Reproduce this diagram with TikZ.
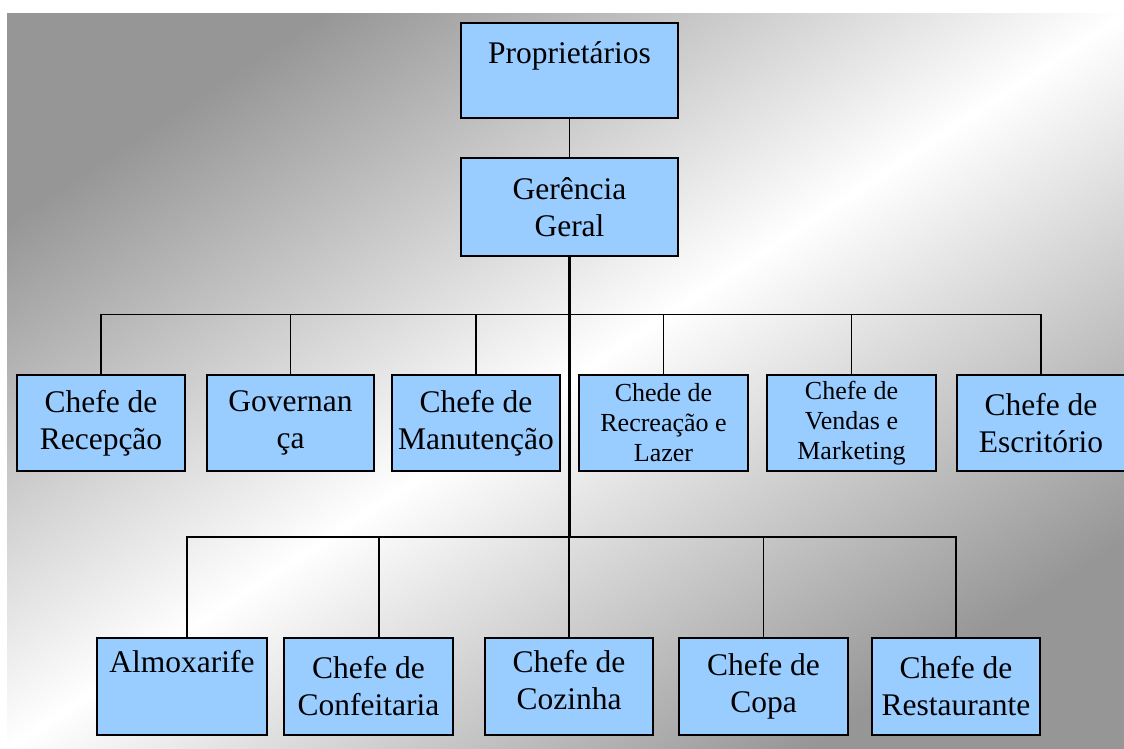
\documentclass[tikz,border=0pt]{standalone}
\usepackage{fontspec}
\setmainfont{Liberation Serif}
\definecolor{boxblue}{RGB}{153,204,255}
\definecolor{bggray}{RGB}{150,150,150}
% extra depth below the last line, used to lift a label inside its box
\newcommand{\liftby}[1]{\rule[-#1]{0pt}{0pt}}
\begin{document}
\begin{tikzpicture}[x=1pt,y=-1pt,
  orgbox/.style={draw=black, line width=2.2pt, fill=boxblue, align=center,
    inner sep=0pt, font=\fontsize{31.5}{37}\selectfont},
  smalltext/.style={font=\fontsize{26}{30}\selectfont},
  conn/.style={draw=black, line width=1.7pt},
  trunk/.style={draw=black, line width=3.2pt}]
\useasboundingbox (0,0) rectangle (1124,749);
% page background
\shade[top color=bggray, bottom color=bggray, middle color=white, shading angle=33.3]
  (7,14) rectangle (1124,749);

% top of the chart
\node[orgbox, minimum width=217pt, minimum height=95pt] (prop) at (569.5,70.5)
  {Proprietários\liftby{36pt}};
\node[orgbox, minimum width=217pt, minimum height=98pt] (ger) at (569.5,207)
  {Gerência\\Geral};

% first row of departments
\node[orgbox, minimum width=168pt, minimum height=96pt] (recep) at (101,423)
  {Chefe de\\Recepção};
\node[orgbox, minimum width=167pt, minimum height=96pt] (gov) at (290.5,423)
  {Governan\\ça};
\node[orgbox, minimum width=168pt, minimum height=96pt] (manut) at (476,423)
  {Chefe de\\Manutenção};
\node[orgbox, smalltext, minimum width=169pt, minimum height=96pt] (recre) at (663.5,423)
  {Chede de\\Recreação e\\Lazer};
\node[orgbox, smalltext, minimum width=169pt, minimum height=96pt] (vendas) at (851.5,423)
  {Chefe de\\Vendas e\\Marketing};
\node[orgbox, minimum width=168pt, minimum height=96pt] (escrit) at (1041,423)
  {Chefe de\\Escritório};

% second row of departments
\node[orgbox, minimum width=170pt, minimum height=97pt] (almox) at (182,686.5)
  {Almoxarife\liftby{50pt}};
\node[orgbox, minimum width=169pt, minimum height=97pt] (conf) at (368.5,686.5)
  {Chefe de\\Confeitaria};
\node[orgbox, minimum width=168pt, minimum height=97pt] (coz) at (569,686.5)
  {Chefe de\\Cozinha\liftby{13pt}};
\node[orgbox, minimum width=169pt, minimum height=97pt] (copa) at (763.5,686.5)
  {Chefe de\\Copa};
\node[orgbox, minimum width=168pt, minimum height=97pt] (rest) at (956,686.5)
  {Chefe de\\Restaurante};

% connectors
\coordinate (bus1) at (569.5,314.5);
\coordinate (bus2) at (569.5,537);
\draw[conn] (prop.south) -- (ger.north);
\foreach \n in {recep,gov,manut,recre,vendas,escrit}
  \draw[conn] (bus1) -| (\n.north);
\draw[conn] (bus2) -| ([xshift=5pt]almox.north);
\draw[conn] (bus2) -| ([xshift=10.5pt]conf.north);
\foreach \n in {coz,copa,rest}
  \draw[conn] (bus2) -| (\n.north);
\draw[trunk] (ger.south) -- (bus2);
\end{tikzpicture}
\end{document}
